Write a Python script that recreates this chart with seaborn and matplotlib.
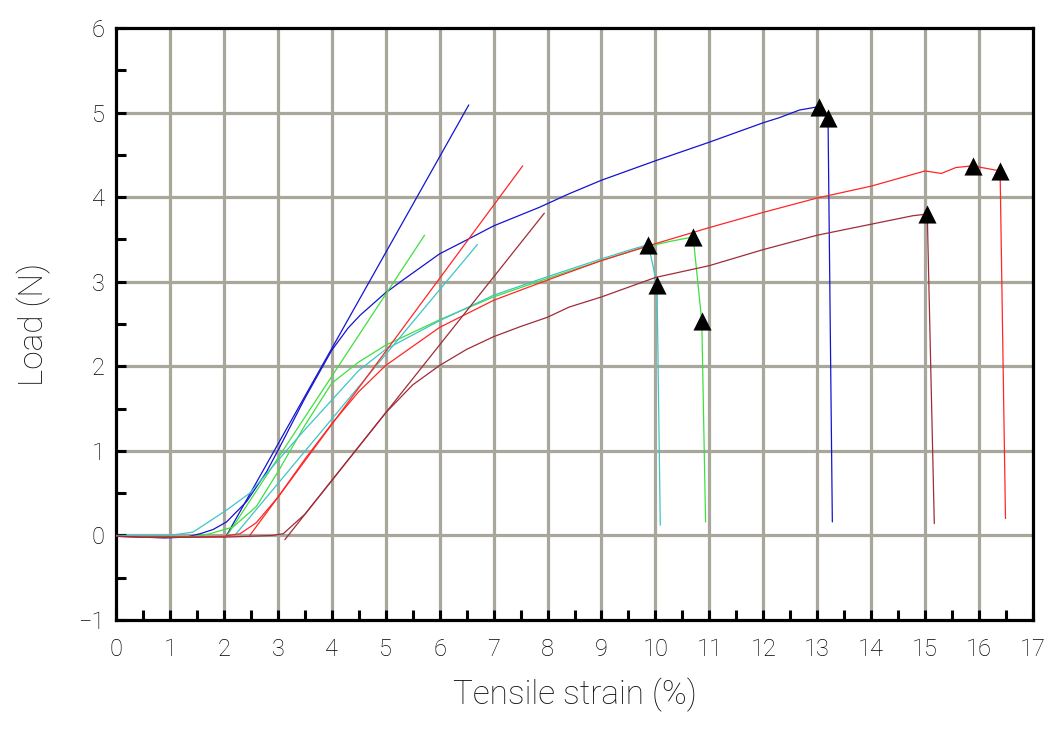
import numpy as np
import pandas as pd
import matplotlib
matplotlib.use("Agg")
import matplotlib.pyplot as plt
import seaborn as sns
from matplotlib.ticker import MultipleLocator

# ---------------- data ----------------
blue_x = [0, 0.5, 0.9, 1.3, 1.56, 1.8, 2.05, 2.42, 2.79, 3.04, 3.5, 4.0, 4.3, 4.52, 4.98, 5.32, 6.0, 6.49,
          7.0, 7.85, 8.4, 9.0, 10.0, 11.0, 12.0, 12.3, 12.67, 13.03, 13.2, 13.28]
blue_y = [-0.01, -0.02, -0.03, -0.02, 0.02, 0.07, 0.16, 0.40, 0.75, 1.05, 1.62, 2.19, 2.45, 2.60, 2.86, 3.02, 3.33,
          3.49, 3.66, 3.88, 4.04, 4.2, 4.43, 4.65, 4.88, 4.94, 5.03, 5.07, 4.93, 0.16]

green_x = [0, 0.5, 1.0, 1.5, 1.74, 2.17, 2.6, 3.0, 3.5, 4.0, 4.5, 5.0, 6.0, 7.0, 8.0, 9.0, 9.8, 10.3,
           10.70, 10.86, 10.93]
green_y = [-0.01, -0.01, -0.02, -0.01, 0.02, 0.10, 0.34, 0.75, 1.3, 1.8, 2.05, 2.25, 2.55, 2.82, 3.04, 3.25,
           3.41, 3.48, 3.53, 2.53, 0.16]

cyan_x = [0, 0.5, 1.0, 1.43, 2.05, 2.48, 2.98, 3.5, 4.0, 4.5, 5.0, 6.0, 7.0, 8.0, 9.0, 9.5, 9.87, 10.03, 10.09]
cyan_y = [0.0, 0.0, 0.0, 0.04, 0.30, 0.50, 0.87, 1.25, 1.6, 1.95, 2.2, 2.54, 2.84, 3.06, 3.27, 3.37, 3.44,
          2.96, 0.12]

red_x = [0, 0.5, 1.0, 1.5, 2.0, 2.3, 2.6, 3.0, 3.5, 4.0, 4.5, 5.0, 6.0, 7.0, 8.0, 9.0, 10.0, 11.0, 12.0,
         13.0, 14.0, 15.0, 15.3, 15.57, 15.88, 16.39, 16.49]
red_y = [-0.01, -0.02, -0.02, -0.02, -0.01, 0.02, 0.15, 0.45, 0.9, 1.32, 1.7, 2.01, 2.46, 2.78, 3.02, 3.25,
         3.45, 3.64, 3.82, 3.99, 4.13, 4.31, 4.28, 4.35, 4.37, 4.31, 0.2]

brown_x = [0, 0.5, 1.0, 1.5, 2.0, 2.5, 2.9, 3.1, 3.5, 4.0, 4.5, 5.0, 5.5, 6.0, 6.5, 7.0, 7.5, 8.0, 8.4,
           9.0, 10.0, 11.0, 12.0, 13.0, 14.0, 14.77, 15.04, 15.17]
brown_y = [-0.01, -0.02, -0.02, -0.02, -0.02, -0.01, 0.0, 0.02, 0.25, 0.65, 1.05, 1.45, 1.78, 2.01, 2.2,
           2.35, 2.47, 2.58, 2.70, 2.82, 3.05, 3.19, 3.38, 3.55, 3.68, 3.78, 3.80, 0.14]

# modulus (tangent) lines
blue_fit_x, blue_fit_y = [2.05, 6.54], [0.0, 5.09]
green_fit_x, green_fit_y = [2.06, 5.72], [0.0, 3.55]
cyan_fit_x, cyan_fit_y = [2.20, 6.70], [0.0, 3.44]
red_fit_x, red_fit_y = [2.48, 7.54], [0.0, 4.37]
brown_fit_x, brown_fit_y = [3.13, 7.94], [-0.05, 3.81]

# markers (max load / break)
marker_x = [13.03, 13.20, 9.87, 10.03, 10.70, 10.86, 15.04, 15.88, 16.39]
marker_y = [5.07, 4.93, 3.44, 2.96, 3.53, 2.53, 3.80, 4.37, 4.31]

x_ticks = list(range(0, 18))
y_ticks = list(range(-1, 7))
x_label = "Tensile strain (%)"
y_label = "Load (N)"

# ---------------- style ----------------
sns.set_style("white")
plt.rcParams['font.family'] = ['Roboto', 'DejaVu Sans']
plt.rcParams['font.weight'] = 'light'
plt.rcParams['axes.unicode_minus'] = True

fig = plt.figure(figsize=(10.58, 7.33), dpi=100)
ax = fig.add_axes([116 / 1058, 1 - 620 / 733, (1033 - 116) / 1058, (620 - 28) / 733])

grid_col = '#a9a69c'
for v in x_ticks[1:-1]:
    ax.axvline(v, color=grid_col, lw=2.3, zorder=0)
for v in y_ticks[1:-1]:
    ax.axhline(v, color=grid_col, lw=2.3, zorder=0)

series = [
    (blue_x, blue_y, blue_fit_x, blue_fit_y, '#1414d0'),
    (green_x, green_y, green_fit_x, green_fit_y, '#3ee03e'),
    (cyan_x, cyan_y, cyan_fit_x, cyan_fit_y, '#3ec4c4'),
    (red_x, red_y, red_fit_x, red_fit_y, '#ff2626'),
    (brown_x, brown_y, brown_fit_x, brown_fit_y, '#a02c38'),
]
for sx, sy, fx, fy, col in series:
    sns.lineplot(x=sx, y=sy, sort=False, estimator=None, color=col, lw=0.9, ax=ax, zorder=3)
    sns.lineplot(x=fx, y=fy, sort=False, estimator=None, color=col, lw=0.9, ax=ax, zorder=3)

sns.scatterplot(x=marker_x, y=marker_y, marker='^', s=170, color='black', edgecolor='black',
                linewidth=0, ax=ax, zorder=5)

ax.set_xlim(0, 17)
ax.set_ylim(-1, 6)
ax.set_xticks(x_ticks)
ax.set_yticks(y_ticks)
ax.set_yticklabels(['\u22121' if v == -1 else str(v) for v in y_ticks])
ax.xaxis.set_minor_locator(MultipleLocator(0.5))
ax.yaxis.set_minor_locator(MultipleLocator(0.5))
ax.tick_params(axis='both', which='both', direction='in', length=7, width=2.2, color='black',
               top=False, right=False, left=True, bottom=True)
ax.tick_params(axis='both', which='major', labelsize=17, colors='black', labelcolor='black')
ax.tick_params(axis='x', which='major', pad=13)
ax.tick_params(axis='y', which='major', pad=8)

for sp in ax.spines.values():
    sp.set_visible(True)
    sp.set_color('black')
    sp.set_linewidth(2.3)

ax.set_xlabel(x_label, fontsize=24, color='#111111', fontweight='light', labelpad=12)
ax.set_ylabel(y_label, fontsize=24, color='#111111', fontweight='light', labelpad=20)

fig.savefig("out.png", dpi=100, facecolor='white')
